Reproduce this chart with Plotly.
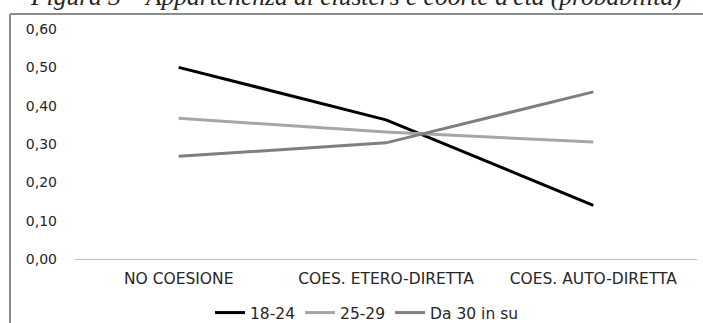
import plotly.graph_objects as go

# Cluster categories and probability of membership per age cohort
categories = ["NO COESIONE", "COES. ETERO-DIRETTA", "COES. AUTO-DIRETTA"]
age_18_24 = [0.50, 0.363, 0.14]
age_25_29 = [0.367, 0.331, 0.305]
age_30_plus = [0.268, 0.303, 0.436]
y_ticks = [0.0, 0.1, 0.2, 0.3, 0.4, 0.5, 0.6]

series = [
    ("18-24", age_18_24, "#000000"),
    ("25-29", age_25_29, "#a6a6a6"),
    ("Da 30 in su", age_30_plus, "#7f7f7f"),
]

fig = go.Figure()
for name, vals, color in series:
    fig.add_trace(go.Scatter(
        x=categories, y=vals, name=name, mode="lines",
        line=dict(color=color, width=3),
    ))

W, H = 703, 323
L, R, T, B = 75, 6, 29, 64
pw, ph = W - L - R, H - T - B
TEXT = "#262626"
SANS = "DejaVu Sans"


def px_x(p):
    return (p - L) / pw


def px_y(p):
    return (H - B - p) / ph


fig.update_layout(
    width=W, height=H,
    margin=dict(l=L, r=R, t=T, b=B, autoexpand=False),
    paper_bgcolor="white", plot_bgcolor="white",
    separators=",.",
    showlegend=True,
    legend=dict(
        orientation="h", x=px_x(367), xanchor="center",
        y=px_y(313), yanchor="middle",
        font=dict(family=SANS, size=15.5, color=TEXT),
        itemwidth=30, tracegroupgap=0,
    ),
    xaxis=dict(
        type="category", range=[-0.5, 2.5],
        showline=True, linecolor="#bfbfbf", linewidth=1,
        showgrid=False, ticks="", ticklabelstandoff=5,
        tickfont=dict(family=SANS, size=15.5, color=TEXT),
    ),
    yaxis=dict(
        range=[0, 0.6], tickvals=y_ticks, tickformat=".2f",
        showgrid=False, showline=False, zeroline=False, ticks="",
        ticklabelstandoff=17,
        tickfont=dict(family=SANS, size=14, color=TEXT),
    ),
    shapes=[
        dict(type="line", xref="paper", yref="paper",
             x0=px_x(10), x1=px_x(W + 5), y0=px_y(14), y1=px_y(14),
             line=dict(color="#8c8c8c", width=2)),
        dict(type="line", xref="paper", yref="paper",
             x0=px_x(10), x1=px_x(10), y0=px_y(14), y1=px_y(H + 5),
             line=dict(color="#8c8c8c", width=2)),
    ],
    annotations=[
        dict(
            text="<i>Figura 3 – Appartenenza ai clusters e coorte d'età (probabilità)</i>",
            xref="paper", yref="paper", x=px_x(356), y=px_y(-3),
            xanchor="center", yanchor="middle", showarrow=False,
            font=dict(family="Liberation Serif", size=25.5, color=TEXT),
        )
    ],
)

fig.write_html("out.html")
